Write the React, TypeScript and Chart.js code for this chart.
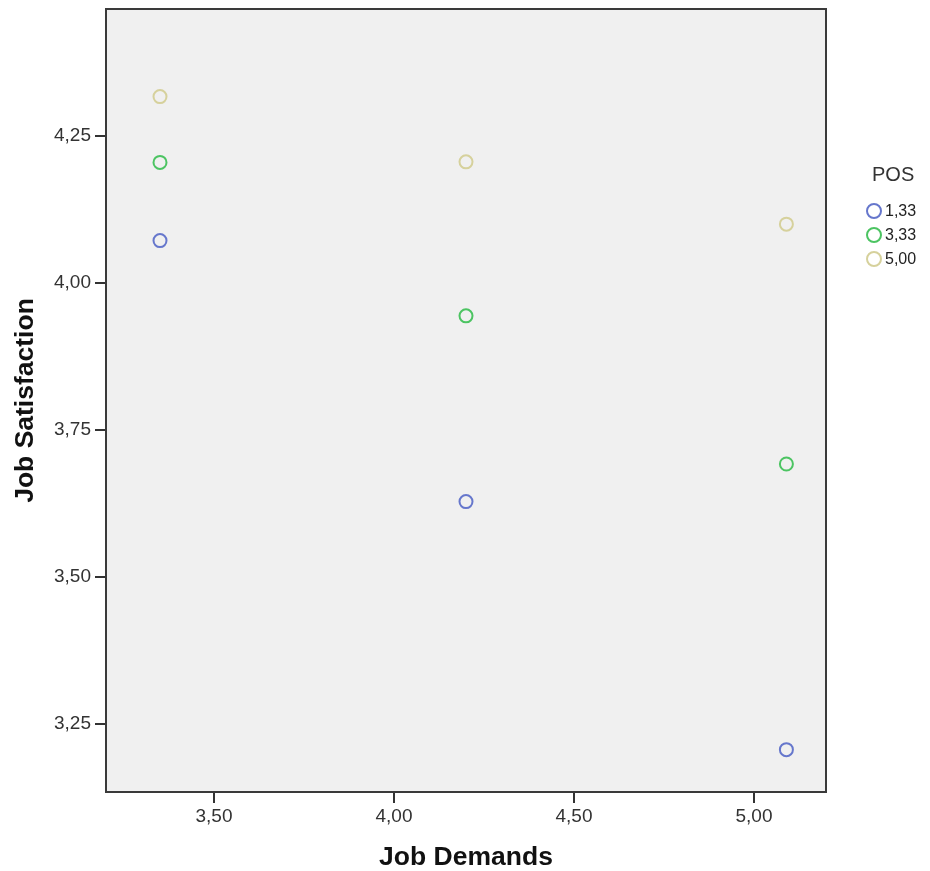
import React, { useEffect, useRef } from 'react';
import { Chart, registerables } from 'chart.js';

Chart.register(...registerables);

const legendTitle = 'POS';
const seriesNames = ['1,33', '3,33', '5,00'];
const jobDemands = [3.35, 4.2, 5.09];
const satPos133 = [4.072, 3.628, 3.206];
const satPos333 = [4.205, 3.944, 3.692];
const satPos500 = [4.317, 4.206, 4.1];
const xTicks = [3.5, 4.0, 4.5, 5.0];
const yTicks = [3.25, 3.5, 3.75, 4.0, 4.25];
const seriesColors = ['#6677cc', '#4cc462', '#d6d19c'];

const fmt = (v: number) => v.toFixed(2).replace('.', ',');

const plotFrame = {
  id: 'plotFrame',
  beforeDraw(chart: any) {
    const { ctx, chartArea: a } = chart;
    ctx.save();
    ctx.fillStyle = '#f0f0f0';
    ctx.fillRect(a.left, a.top, a.right - a.left, a.bottom - a.top);
    ctx.restore();
  },
  afterDraw(chart: any) {
    const { ctx, chartArea: a } = chart;
    ctx.save();
    ctx.strokeStyle = '#3a3a3a';
    ctx.lineWidth = 2;
    ctx.strokeRect(a.left, a.top, a.right - a.left, a.bottom - a.top);
    ctx.restore();
  },
};

const sideLegend = {
  id: 'sideLegend',
  afterDraw(chart: any) {
    const { ctx, chartArea: a } = chart;
    const x0 = a.right + 48;
    ctx.save();
    ctx.fillStyle = '#333333';
    ctx.textBaseline = 'middle';
    ctx.textAlign = 'left';
    ctx.font = '20px "Liberation Sans", Arial, sans-serif';
    ctx.fillText(legendTitle, x0 - 2, 175);
    ctx.font = '16px "Liberation Sans", Arial, sans-serif';
    chart.data.datasets.forEach((ds: any, i: number) => {
      const y = 211 + i * 24;
      ctx.beginPath();
      ctx.arc(x0, y, 7, 0, Math.PI * 2);
      ctx.strokeStyle = ds.borderColor;
      ctx.lineWidth = 2;
      ctx.stroke();
      ctx.fillStyle = '#222222';
      ctx.fillText(ds.label, x0 + 11, y + 1);
    });
    ctx.restore();
  },
};

export default function App() {
  const ref = useRef<HTMLCanvasElement | null>(null);

  useEffect(() => {
    if (!ref.current) return;
    const series = [satPos133, satPos333, satPos500];
    const chart = new Chart(ref.current, {
      type: 'scatter',
      data: {
        datasets: series.map((vals, i) => ({
          label: seriesNames[i],
          data: vals.map((y, j) => ({ x: jobDemands[j], y })),
          borderColor: seriesColors[i],
          backgroundColor: 'rgba(0,0,0,0)',
          pointRadius: 6.5,
          pointBorderWidth: 2,
          pointStyle: 'circle',
        })),
      },
      options: {
        animation: false,
        responsive: true,
        maintainAspectRatio: false,
        layout: { padding: { left: 0, top: 9, right: 104, bottom: 0 } },
        plugins: { legend: { display: false }, tooltip: { enabled: false } },
        scales: {
          x: {
            type: 'linear',
            min: 3.2,
            max: 5.2,
            afterBuildTicks: (s: any) => {
              s.ticks = xTicks.map((v) => ({ value: v }));
            },
            afterFit: (s: any) => {
              s.height = 79;
              s.paddingLeft = 0;
              s.paddingRight = 0;
            },
            grid: { drawOnChartArea: false, drawTicks: true, tickLength: 11, color: '#333333', lineWidth: 2 },
            border: { display: true, color: '#3a3a3a', width: 2 },
            ticks: {
              padding: 2,
              color: '#333333',
              font: { family: '"Liberation Sans", Arial, sans-serif', size: 19 },
              callback: (v: any) => fmt(Number(v)),
            },
            title: {
              display: true,
              text: 'Job Demands',
              color: '#111111',
              padding: { top: 0, bottom: 0 },
              font: { family: '"Liberation Sans", Arial, sans-serif', size: 26.5, weight: 'bold', lineHeight: 1 },
            },
          },
          y: {
            type: 'linear',
            min: 3.134,
            max: 4.466,
            afterBuildTicks: (s: any) => {
              s.ticks = yTicks.map((v) => ({ value: v }));
            },
            afterFit: (s: any) => {
              s.width = 106;
              s.paddingTop = 0;
              s.paddingBottom = 0;
            },
            grid: { drawOnChartArea: false, drawTicks: true, tickLength: 11, color: '#333333', lineWidth: 2 },
            border: { display: true, color: '#3a3a3a', width: 2 },
            ticks: {
              padding: 4,
              color: '#333333',
              font: { family: '"Liberation Sans", Arial, sans-serif', size: 19 },
              callback: (v: any) => fmt(Number(v)),
            },
            title: {
              display: true,
              text: 'Job Satisfaction',
              color: '#111111',
              padding: { top: 12, bottom: 0 },
              font: { family: '"Liberation Sans", Arial, sans-serif', size: 26.5, weight: 'bold', lineHeight: 1 },
            },
          },
        },
      },
      plugins: [plotFrame, sideLegend],
    });
    return () => chart.destroy();
  }, []);

  return (
    <div style={{ position: 'fixed', left: 0, top: 0, width: 930, height: 871, background: '#ffffff' }}>
      <canvas ref={ref} />
    </div>
  );
}
